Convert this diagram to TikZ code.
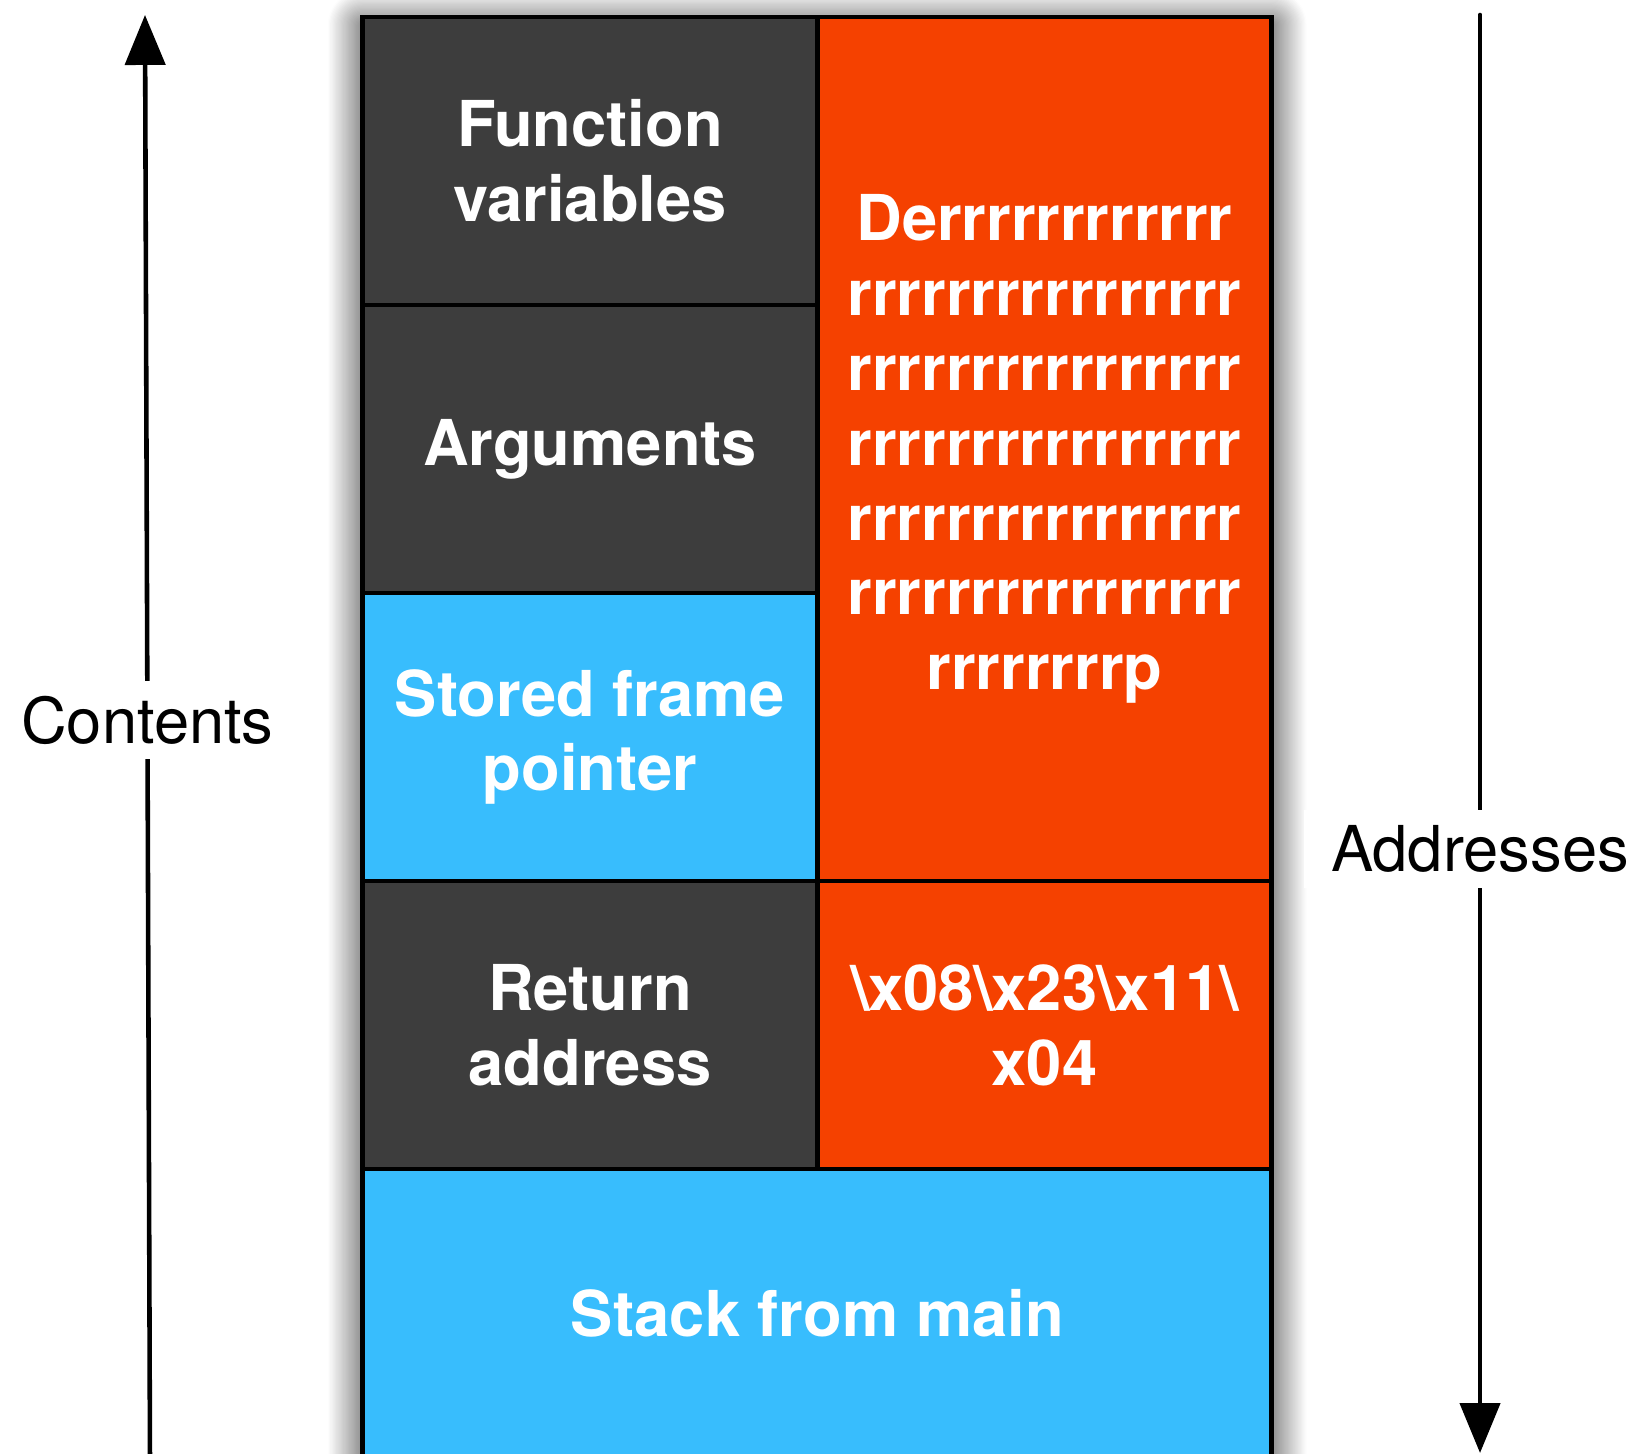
\documentclass[tikz,border=0pt]{standalone}
\usepackage{fontspec}
\setmainfont{TeX Gyre Heros}
\usepackage{tikz}
\usetikzlibrary{positioning,arrows.meta,shadows.blur,backgrounds}
\definecolor{framegray}{RGB}{61,61,61}
\definecolor{smashred}{RGB}{245,65,0}
\definecolor{stackblue}{RGB}{56,189,253}

\begin{document}
\begin{tikzpicture}
		[>={Triangle[width=4mm,length=5mm]},
		slot/.style={rectangle,draw=black,line width=1.3pt,outer sep=0pt,inner sep=0pt,text=white,align=center,
			font=\bfseries\fontsize{18}{21.3}\selectfont,minimum width=4.545cm,minimum height=2.88cm},
		framecell/.style={slot,fill=framegray},
		savedcell/.style={slot,fill=stackblue},
		smashcell/.style={slot,fill=smashred},
		axislabel/.style={fill=white,text=black,font=\fontsize{18}{21.3}\selectfont,inner xsep=0.27cm,inner ysep=0.15cm}]
		\useasboundingbox (0,0) rectangle (16.38,14.53);
		\clip (0,0) rectangle (16.38,14.53);

		\node [framecell] (vars) at (5.90,12.92) {Function\\variables};
		\node [framecell] (args) [below=0pt of vars] {Arguments};
		\node [savedcell] (sfp) [below=0pt of args] {Stored frame\\pointer};
		\node [framecell] (ret) [below=0pt of sfp] {Return\\address};
		\node [savedcell, minimum width=9.09cm] (main) [below=0pt of ret.south east] {Stack from main};

		\node [smashcell, minimum height=8.64cm] (junk) [below right=0pt of vars.north east]
			{Derrrrrrrrrrrr\\rrrrrrrrrrrrrrrr\\rrrrrrrrrrrrrrrr\\rrrrrrrrrrrrrrrr\\rrrrrrrrrrrrrrrr\\rrrrrrrrrrrrrrrr\\rrrrrrrrp};
		\node [smashcell] (addr) [right=0pt of ret]
			{\textbackslash x08\textbackslash x23\textbackslash x11\textbackslash\\x04};

		\begin{scope}[on background layer]
			\path [fill=white, blur shadow={shadow xshift=0pt, shadow yshift=-0.08cm, shadow blur radius=0.35cm,
				shadow blur steps=30, shadow opacity=90}]
				(vars.north west) rectangle (main.south east);
		\end{scope}

		\coordinate (cbase) at (1.50,-0.10);
		\coordinate (ctip) at (1.45,14.38);
		\coordinate (atop) at (14.80,14.38);
		\coordinate (abot) at (14.80,0.0);

		\draw [->, line width=1.3pt] (cbase) -- node [axislabel, pos=0.513] {Contents} (ctip);
		\draw [->, line width=1.3pt, line cap=round] (atop) -- node [axislabel, pos=0.58] {Addresses} (abot);

	\end{tikzpicture}
\end{document}
